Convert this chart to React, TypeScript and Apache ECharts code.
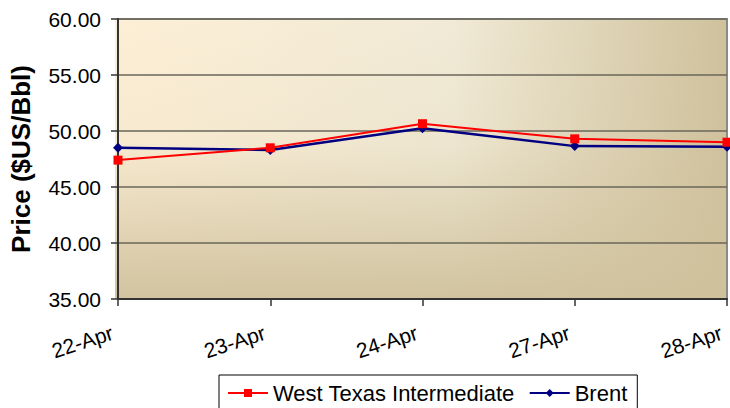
import React, { useEffect, useRef } from "react";
import * as echarts from "echarts";

const categories = ["22-Apr", "23-Apr", "24-Apr", "27-Apr", "28-Apr"];
const wti = [47.4, 48.5, 50.65, 49.3, 49.0];
const brent = [48.5, 48.3, 50.25, 48.65, 48.6];
const yMin = 35;
const yMax = 60;
const yStep = 5;

const G_LEFT = 115;
const G_TOP = 19;
const G_RIGHT = 3;
const G_BOTTOM = 109;
const W = 730;
const H = 408;

export default function App() {
  const ref = useRef<HTMLDivElement>(null);
  useEffect(() => {
    if (!ref.current) return;
    const chart = echarts.init(ref.current, null, { renderer: "svg" });
    const font = "'Liberation Sans', Arial, sans-serif";
    const pw = W - G_LEFT - G_RIGHT;
    const ph = H - G_TOP - G_BOTTOM;
    chart.setOption({
      animation: false,
      backgroundColor: "#ffffff",
      textStyle: { fontFamily: font },
      graphic: [
        {
          type: "rect",
          z: -2,
          silent: true,
          shape: { x: G_LEFT, y: G_TOP, width: pw, height: ph },
          style: {
            fill: new echarts.graphic.LinearGradient(0, 0, 1, 0, [
              { offset: 0, color: "#fdefd6" },
              { offset: 0.55, color: "#f1ead6" },
              { offset: 1, color: "#cfc19c" },
            ]),
          },
        },
        {
          type: "rect",
          z: -1,
          silent: true,
          shape: { x: G_LEFT, y: G_TOP, width: pw, height: ph },
          style: {
            fill: new echarts.graphic.LinearGradient(0, 0, 0, 1, [
              { offset: 0, color: "rgba(207,193,156,0)" },
              { offset: 0.45, color: "rgba(207,193,156,0.12)" },
              { offset: 1, color: "rgba(207,193,156,0.95)" },
            ]),
          },
        },
      ],
      grid: {
        left: G_LEFT,
        right: G_RIGHT,
        top: G_TOP,
        bottom: G_BOTTOM,
        show: true,
        borderColor: "#8a8a8a",
        borderWidth: 2,
        backgroundColor: "transparent",
      },
      legend: {
        left: 219,
        top: 375,
        padding: [7, 10, 20, 8],
        borderColor: "#000",
        borderWidth: 1,
        backgroundColor: "#fff",
        itemWidth: 40,
        itemHeight: 10,
        itemGap: 14,
        textStyle: { fontFamily: font, fontSize: 22, color: "#000" },
        data: [{ name: "West Texas Intermediate" }, { name: "Brent" }],
      },
      xAxis: {
        type: "category",
        data: categories,
        boundaryGap: false,
        axisLine: { show: true, lineStyle: { color: "#333", width: 2 } },
        axisTick: { show: true, length: 7, lineStyle: { color: "#333", width: 1.5 } },
        axisLabel: {
          rotate: 18,
          margin: 31,
          fontSize: 21,
          color: "#000",
          fontFamily: font,
          padding: [0, 6, 0, 0],
        },
        splitLine: { show: false },
      },
      yAxis: {
        type: "value",
        min: yMin,
        max: yMax,
        interval: yStep,
        name: "Price ($US/Bbl)",
        nameLocation: "middle",
        nameGap: 84,
        nameTextStyle: { fontFamily: font, fontSize: 26, fontWeight: "bold", color: "#000" },
        axisLine: { show: true, lineStyle: { color: "#333", width: 2 } },
        axisTick: { show: true, length: 7, lineStyle: { color: "#333", width: 1.5 } },
        axisLabel: {
          fontSize: 21,
          color: "#000",
          margin: 17,
          fontFamily: font,
          formatter: (v: number) => v.toFixed(2),
        },
        splitLine: { show: true, lineStyle: { color: "#6a6658", width: 1.5 } },
      },
      series: [
        {
          name: "West Texas Intermediate",
          type: "line",
          data: wti,
          symbol: "rect",
          symbolSize: 9,
          lineStyle: { color: "#ff0000", width: 2 },
          itemStyle: { color: "#ff0000" },
          z: 3,
        },
        {
          name: "Brent",
          type: "line",
          data: brent,
          symbol: "diamond",
          symbolSize: 10,
          lineStyle: { color: "#000080", width: 2.5 },
          itemStyle: { color: "#000080" },
          z: 2,
        },
      ],
    });
    return () => chart.dispose();
  }, []);
  return (
    <div
      ref={ref}
      style={{ position: "fixed", left: 0, top: 0, width: W, height: H }}
    />
  );
}
